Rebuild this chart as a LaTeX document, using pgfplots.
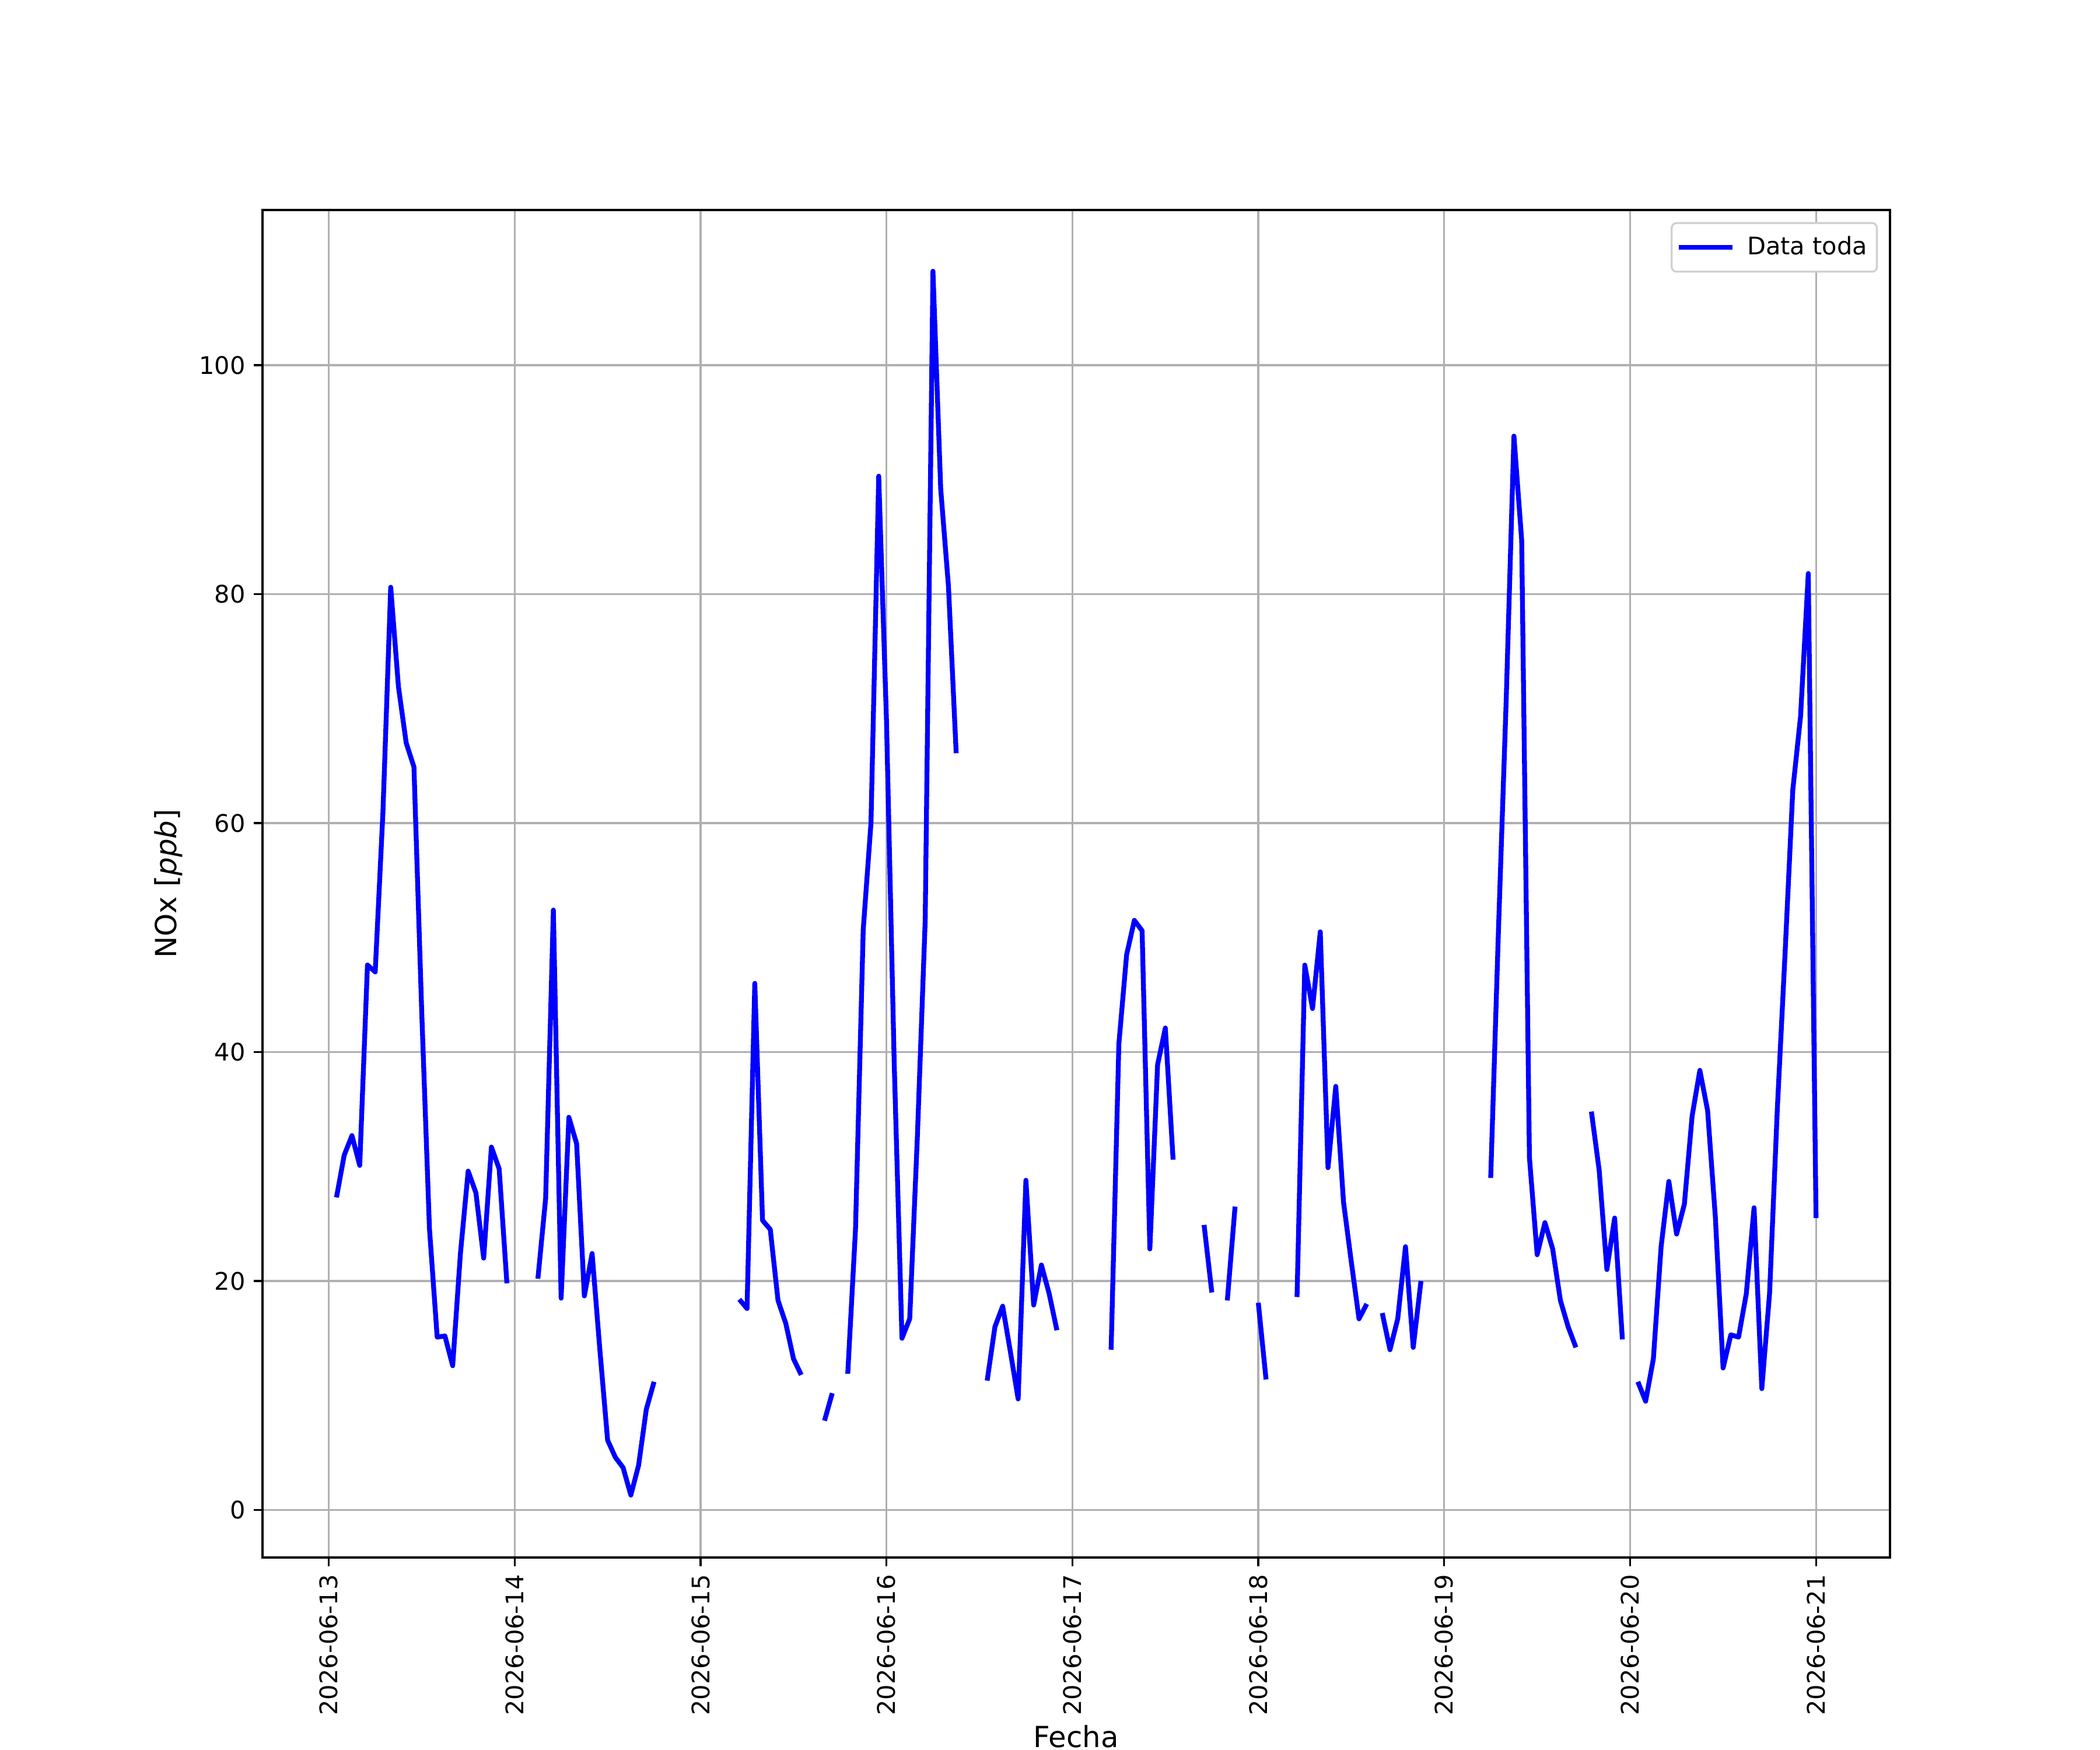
\documentclass[border=0pt]{standalone}
\usepackage{fontspec}
\setmainfont{DejaVu Sans}
\usepackage{pgfplots}
\pgfplotsset{compat=1.18}
\usepackage{pgfplotstable}
\definecolor{gridgray}{HTML}{B0B0B0}
\definecolor{leggray}{HTML}{D0D0D0}
\pgfplotstableread{
h v
1 27.3
2 31.0
3 32.7
4 30.1
5 47.6
6 47.0
7 61.0
8 80.6
9 71.9
10 67.0
11 64.9
12 43.6
13 24.6
14 15.1
15 15.2
16 12.6
17 22.4
18 29.6
19 27.7
20 22.0
21 31.7
22 29.8
23 19.8
24 nan
27 20.2
28 27.2
29 52.4
30 18.5
31 34.3
32 32.0
33 18.7
34 22.4
35 14.0
36 6.1
37 4.6
38 3.7
39 1.3
40 3.9
41 8.8
42 11.2
43 nan
53 18.4
54 17.6
55 46.0
56 25.3
57 24.5
58 18.3
59 16.3
60 13.2
61 11.8
62 nan
64 7.8
65 10.2
66 nan
67 11.9
68 24.5
69 50.7
70 60.0
71 90.3
72 69.0
73 39.0
74 15.0
75 16.7
76 32.8
77 51.5
78 108.2
79 89.2
80 80.7
81 66.1
82 nan
85 11.3
86 16.0
87 17.8
88 13.8
89 9.7
90 28.8
91 17.9
92 21.4
93 18.9
94 15.7
95 nan
101 14.0
102 40.7
103 48.5
104 51.5
105 50.6
106 22.8
107 38.9
108 42.1
109 30.6
110 nan
113 24.9
114 19.0
115 nan
116 18.3
117 26.5
118 nan
120 18.1
121 11.4
122 nan
125 18.6
126 47.6
127 43.8
128 50.5
129 29.9
130 37.0
131 26.9
132 21.7
133 16.7
134 18.0
135 nan
136 17.2
137 14.0
138 16.7
139 23.0
140 14.2
141 20.0
142 nan
150 29.0
151 50.6
152 70.7
153 93.8
154 84.7
155 30.8
156 22.3
157 25.1
158 22.8
159 18.3
160 16.0
161 14.2
162 nan
163 34.8
164 29.7
165 21.0
166 25.5
167 14.9
168 nan
169 11.2
170 9.5
171 13.2
172 23.0
173 28.7
174 24.1
175 26.7
176 34.4
177 38.4
178 34.9
179 25.6
180 12.4
181 15.3
182 15.1
183 18.9
184 26.4
185 10.6
186 18.9
187 35.0
188 48.6
189 62.9
190 69.3
191 81.8
192 25.5
}\nox

\begin{document}
\begin{tikzpicture}
\useasboundingbox (0,0) rectangle (12in,10in);
\begin{axis}[
  at={(1.5in,1.1in)}, anchor=south west,
  scale only axis, width=9.3in, height=7.7in,
  xmin=-8.55, xmax=201.55, ymin=-4.15, ymax=113.55,
  unbounded coords=jump,
  xtick={0,24,...,192},
  xticklabels={2026-06-13,2026-06-14,2026-06-15,2026-06-16,2026-06-17,2026-06-18,2026-06-19,2026-06-20,2026-06-21},
  xticklabel style={rotate=90, anchor=east, font=\fontsize{10}{12}\selectfont},
  ytick={0,20,...,100},
  yticklabel style={font=\fontsize{10}{12}\selectfont},
  /pgf/number format/assume math mode=true,
  grid=major,
  major grid style={color=gridgray, line width=0.8pt},
  axis line style={line width=0.8pt},
  tick style={black, line width=0.8pt},
  tick align=outside,
  major tick length=3.5pt,
  xtick pos=left, ytick pos=left,
  xlabel={Fecha},
  xlabel style={at={(axis description cs:0.5,0)}, anchor=base, yshift=-78.3pt},
  ylabel={NOx [\textit{ppb}]},
  label style={font=\fontsize{12}{14}\selectfont},
  legend style={at={(1,1)}, anchor=north east, xshift=-5pt, yshift=-5pt,
    draw=leggray, rounded corners=2pt, line width=0.8pt,
    font=\fontsize{10}{12}\selectfont, inner xsep=2pt, inner ysep=3.5pt,
    column sep=3pt},
  legend cell align=left,
  legend image code/.code={\draw[#1] (0cm,0cm) -- (0.78cm,0cm);},
]
\addplot[color=blue, line width=2pt, line join=round] table[x=h, y=v] {\nox};
\addlegendentry{Data toda}
\end{axis}
\end{tikzpicture}
\end{document}
